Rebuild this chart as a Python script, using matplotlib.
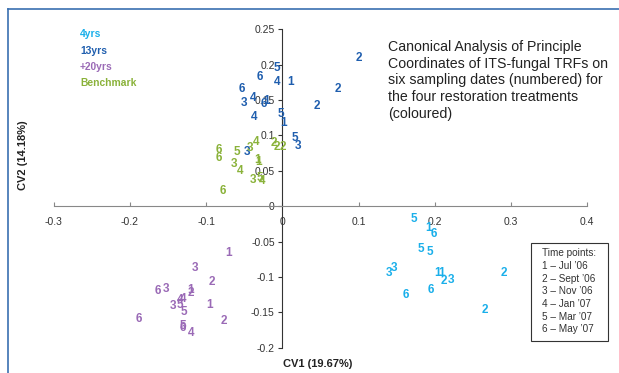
import matplotlib
matplotlib.use("Agg")
import matplotlib.pyplot as plt
from matplotlib.lines import Line2D

plt.rcParams['font.family'] = ['Liberation Sans', 'DejaVu Sans']

# =====================================
# DATA
# =====================================

groups = ["4yrs", "13yrs", "+20yrs", "Benchmark"]
colours = ["#1AAFEA", "#1F5EAE", "#9A6AB6", "#8AB23A"]

yrs4_x = [0.173, 0.192, 0.198, 0.182, 0.193, 0.147, 0.140, 0.203, 0.209,
          0.212, 0.221, 0.291, 0.162, 0.195, 0.265]
yrs4_y = [-0.018, -0.031, -0.039, -0.061, -0.065, -0.087, -0.095, -0.095, -0.095,
          -0.106, -0.105, -0.095, -0.125, -0.119, -0.147]
yrs4_lab = ["5", "1", "6", "5", "5", "3", "3", "1", "1",
            "2", "3", "2", "6", "6", "2"]

yrs13_x = [-0.007, -0.029, -0.007, 0.011, -0.053, -0.039, -0.051, -0.024, -0.021,
           -0.037, -0.002, 0.002, 0.100, 0.073, 0.045, 0.016, 0.020, -0.047]
yrs13_y = [0.195, 0.183, 0.175, 0.175, 0.166, 0.153, 0.146, 0.145, 0.149,
           0.126, 0.130, 0.118, 0.210, 0.165, 0.141, 0.097, 0.085, 0.077]
yrs13_lab = ["5", "6", "4", "1", "6", "4", "3", "6", "1",
             "4", "5", "1", "2", "2", "2", "5", "3", "3"]

yrs20_x = [-0.070, -0.114, -0.092, -0.164, -0.153, -0.120, -0.120, -0.130, -0.134,
           -0.143, -0.134, -0.129, -0.096, -0.189, -0.131, -0.131, -0.120, -0.077]
yrs20_y = [-0.066, -0.087, -0.107, -0.120, -0.117, -0.119, -0.122, -0.131, -0.133,
           -0.141, -0.139, -0.150, -0.139, -0.159, -0.170, -0.172, -0.179, -0.162]
yrs20_lab = ["1", "3", "2", "6", "3", "1", "2", "4", "4",
             "3", "5", "5", "1", "6", "5", "6", "4", "2"]

bench_x = [-0.083, -0.084, -0.060, -0.042, -0.034, -0.011, -0.007, 0.001, -0.033,
           -0.031, -0.064, -0.056, -0.038, -0.030, -0.027, -0.078]
bench_y = [0.079, 0.068, 0.076, 0.082, 0.091, 0.089, 0.083, 0.083, 0.065,
           0.062, 0.059, 0.050, 0.037, 0.040, 0.036, 0.021]
bench_lab = ["6", "6", "5", "3", "4", "2", "2", "2", "1",
             "1", "3", "4", "3", "5", "4", "6"]

xticks = [-0.3, -0.2, -0.1, 0, 0.1, 0.2, 0.3, 0.4]
yticks = [-0.2, -0.15, -0.1, -0.05, 0, 0.05, 0.1, 0.15, 0.2, 0.25]

title_text = ("Canonical Analysis of Principle\nCoordinates of ITS-fungal TRFs on\n"
              "six sampling dates (numbered) for\nthe four restoration treatments\n(coloured)")
time_points = ["Time points:", "1 \u2013 Jul \u201906", "2 \u2013 Sept \u201906", "3 \u2013 Nov \u201906",
               "4 \u2013 Jan \u201907", "5 \u2013 Mar \u201907", "6 \u2013 May \u201907"]

# =====================================
# FIGURE
# =====================================

fig = plt.figure(figsize=(6.19, 3.73), dpi=100)
ax = fig.add_axes([0.0868, 0.0678, 0.862, 0.8536])
ax.set_xlim(-0.3, 0.4)
ax.set_ylim(-0.2, 0.25)

ax.spines['left'].set_position(('data', 0))
ax.spines['bottom'].set_position(('data', 0))
ax.spines['top'].set_visible(False)
ax.spines['right'].set_visible(False)
ax.spines['left'].set_color('#333333')
ax.spines['bottom'].set_color('#888888')

ax.set_xticks(xticks)
ax.set_xticklabels([f"{t:g}" for t in xticks])
ax.set_yticks(yticks)
ax.set_yticklabels([f"{t:g}" for t in yticks])
ax.tick_params(axis='x', direction='in', length=3, pad=7.5, labelsize=7.5,
               colors='#888888', labelcolor='#333333')
ax.tick_params(axis='y', direction='out', length=3, pad=2.5, labelsize=7.5,
               colors='#333333', labelcolor='#333333')

all_data = [(yrs4_x, yrs4_y, yrs4_lab), (yrs13_x, yrs13_y, yrs13_lab),
            (yrs20_x, yrs20_y, yrs20_lab), (bench_x, bench_y, bench_lab)]

for (xs, ys, labs), col in zip(all_data, colours):
    for x, y, lab in zip(xs, ys, labs):
        ax.text(x, y, lab, color=col, fontsize=8.5, fontweight='bold',
                ha='center', va='center', clip_on=False)

# group legend (coloured text)
for i, (g, col) in enumerate(zip(groups, colours)):
    fig.text(80 / 619, 1 - (34 + i * 16.5) / 373, g, color=col, fontsize=7.4,
             fontweight='bold', ha='left', va='center')

# axis titles
fig.text(283 / 619, 1 - 364 / 373, "CV1 (19.67%)", fontsize=8, fontweight='bold',
         color='#222222', ha='left', va='center')
fig.text(23 / 619, 1 - 155 / 373, "CV2 (14.18%)", fontsize=8, fontweight='bold',
         color='#222222', ha='center', va='center', rotation=90)

# description
fig.text(388 / 619, 1 - 40 / 373, title_text, fontsize=10.2, color='#222222',
         ha='left', va='top', linespacing=1.24)

# time points box
fig.text(542 / 619, 1 - 248.5 / 373, "\n".join(time_points), fontsize=7.2,
         color='#333333', ha='left', va='top', linespacing=1.33)
fig.patches.append(plt.Rectangle((531 / 619, 1 - 341 / 373), 77 / 619, 98 / 373,
                                 transform=fig.transFigure, fill=False,
                                 edgecolor='#333333', linewidth=0.8))

# page frame lines
fig.add_artist(Line2D([8 / 619, 1], [1 - 9 / 373, 1 - 9 / 373],
                      transform=fig.transFigure, color='#3A6FB0', linewidth=1.2))
fig.add_artist(Line2D([8 / 619, 8 / 619], [0, 1 - 9 / 373],
                      transform=fig.transFigure, color='#3A6FB0', linewidth=1.2))

fig.savefig("out.png", dpi=100)
